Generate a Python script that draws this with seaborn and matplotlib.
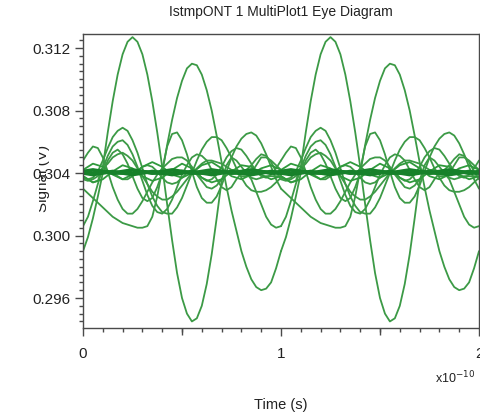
import numpy as np
import pandas as pd
import matplotlib
matplotlib.use("Agg")
import matplotlib.pyplot as plt
import seaborn as sns
from matplotlib.ticker import MultipleLocator, FormatStrFormatter
from matplotlib.patches import Rectangle

sns.set_style("ticks")
plt.rcParams["font.family"] = ["Liberation Sans", "DejaVu Sans"]

# ---------------- text ----------------
title = "IstmpONT 1 MultiPlot1 Eye Diagram"
x_label = "Time (s)"
y_label = "Signal (V)"
x_scale_label = "x10$^{-10}$"
x_tick_labels = ["0", "1", "2"]
y_tick_values = [0.296, 0.300, 0.304, 0.308, 0.312]

# ---------------- data (time in units of 1e-10 s, one unit interval) ----------------
periods = [0, 1]
t_fine = np.linspace(0, 1, 41)
t_coarse = np.linspace(0, 1, 21)

trace_a = [0.3038, 0.3036, 0.3034, 0.3035, 0.3044, 0.3066, 0.3086, 0.3103, 0.3116, 0.3124,
           0.3127, 0.3124, 0.3116, 0.3103, 0.3086, 0.3066, 0.3044, 0.3020, 0.2997, 0.2976,
           0.2960, 0.2950, 0.2945, 0.2947, 0.2955, 0.2969, 0.2988, 0.3011, 0.3035, 0.3045,
           0.3050, 0.3048, 0.3044, 0.3040, 0.3037, 0.3036, 0.3037, 0.3038, 0.3038, 0.3038,
           0.3038]
trace_b = [0.2990, 0.2999, 0.3011, 0.3025, 0.3040, 0.3048, 0.3053, 0.3055, 0.3052, 0.3046,
           0.3038, 0.3030, 0.3024, 0.3022, 0.3024, 0.3031, 0.3040, 0.3058, 0.3074, 0.3088,
           0.3099, 0.3107, 0.3110, 0.3109, 0.3103, 0.3093, 0.3080, 0.3064, 0.3047, 0.3031,
           0.3016, 0.3003, 0.2990, 0.2980, 0.2972, 0.2967, 0.2965, 0.2966, 0.2970, 0.2979,
           0.2990]
trace_c = [0.3037, 0.3036, 0.3037, 0.3041, 0.3048, 0.3056, 0.3063, 0.3067, 0.3069, 0.3067,
           0.3061, 0.3053, 0.3043, 0.3033, 0.3025, 0.3019, 0.3015, 0.3014, 0.3014, 0.3018,
           0.3024, 0.3032, 0.3040, 0.3048, 0.3055, 0.3060, 0.3063, 0.3063, 0.3061, 0.3056,
           0.3050, 0.3043, 0.3037, 0.3032, 0.3029, 0.3028, 0.3028, 0.3029, 0.3031, 0.3034,
           0.3037]
trace_d = [0.3030, 0.3027, 0.3024, 0.3021, 0.3018, 0.3015, 0.3012, 0.3010, 0.3008, 0.3007,
           0.3006, 0.3005, 0.3005, 0.3006, 0.3012, 0.3025, 0.3042, 0.3057, 0.3065, 0.3066,
           0.3061, 0.3052, 0.3041, 0.3031, 0.3024, 0.3021, 0.3021, 0.3025, 0.3032, 0.3041,
           0.3050, 0.3057, 0.3062, 0.3065, 0.3066, 0.3064, 0.3059, 0.3052, 0.3044, 0.3036,
           0.3030]
trace_e = [0.3048, 0.3053, 0.3057, 0.3056, 0.3050, 0.3041, 0.3031, 0.3023, 0.3017, 0.3014,
           0.3014, 0.3017, 0.3022, 0.3028, 0.3034, 0.3039, 0.3043, 0.3046, 0.3049, 0.3050,
           0.3050, 0.3048, 0.3044, 0.3040, 0.3037, 0.3035, 0.3036, 0.3039, 0.3044, 0.3050,
           0.3054, 0.3056, 0.3055, 0.3051, 0.3046, 0.3041, 0.3038, 0.3037, 0.3039, 0.3043,
           0.3048]
trace_f = [0.3006, 0.3012, 0.3022, 0.3033, 0.3043, 0.3051, 0.3057, 0.3060, 0.3061, 0.3058,
           0.3052, 0.3044, 0.3035, 0.3026, 0.3019, 0.3015, 0.3014, 0.3017, 0.3023, 0.3031,
           0.3039, 0.3045, 0.3050, 0.3052, 0.3051, 0.3048, 0.3042, 0.3036, 0.3031, 0.3029,
           0.3031, 0.3036, 0.3040, 0.3040, 0.3036, 0.3028, 0.3020, 0.3012, 0.3007, 0.3005,
           0.3006]
trace_g = [0.3042, 0.3041, 0.3040, 0.3041, 0.3043, 0.3046, 0.3050, 0.3052, 0.3053, 0.3051,
           0.3048, 0.3043, 0.3038, 0.3033, 0.3028, 0.3025, 0.3023, 0.3023, 0.3025, 0.3028,
           0.3032, 0.3036, 0.3040, 0.3043, 0.3046, 0.3048, 0.3048, 0.3047, 0.3046, 0.3044,
           0.3042, 0.3040, 0.3038, 0.3038, 0.3040, 0.3045, 0.3050, 0.3050, 0.3048, 0.3045,
           0.3042]
trace_h = [0.3036, 0.3035, 0.3036, 0.3038, 0.3040, 0.3041, 0.3040, 0.3038, 0.3036, 0.3036,
           0.3038, 0.3041, 0.3044, 0.3045, 0.3044, 0.3041, 0.3037, 0.3034, 0.3033, 0.3034,
           0.3037, 0.3040, 0.3041, 0.3039, 0.3035, 0.3031, 0.3030, 0.3032, 0.3036, 0.3040,
           0.3042, 0.3042, 0.3041, 0.3042, 0.3045, 0.3049, 0.3052, 0.3051, 0.3047, 0.3041,
           0.3036]

loop_1 = [0.3042, 0.3046, 0.3044, 0.3039, 0.3036, 0.3039, 0.3044, 0.3047, 0.3044, 0.3039, 0.3037,
          0.3040, 0.3045, 0.3047, 0.3043, 0.3038, 0.3036, 0.3039, 0.3043, 0.3045, 0.3042]
loop_2 = [0.3038, 0.3034, 0.3036, 0.3041, 0.3045, 0.3043, 0.3038, 0.3035, 0.3037, 0.3042, 0.3046,
          0.3043, 0.3037, 0.3034, 0.3036, 0.3041, 0.3045, 0.3044, 0.3039, 0.3036, 0.3038]

band_1 = [0.3041, 0.3042, 0.3041, 0.3040, 0.3041, 0.3042, 0.3041, 0.3040, 0.3041, 0.3042, 0.3041,
          0.3040, 0.3041, 0.3042, 0.3041, 0.3040, 0.3041, 0.3042, 0.3041, 0.3040, 0.3041]
band_2 = [0.3040, 0.3039, 0.3040, 0.3041, 0.3040, 0.3039, 0.3040, 0.3041, 0.3040, 0.3039, 0.3040,
          0.3041, 0.3040, 0.3039, 0.3040, 0.3041, 0.3040, 0.3039, 0.3040, 0.3041, 0.3040]
band_3 = [0.3040, 0.3040, 0.3041, 0.3040, 0.3040, 0.3040, 0.3041, 0.3040, 0.3040, 0.3040, 0.3041,
          0.3040, 0.3040, 0.3040, 0.3041, 0.3040, 0.3040, 0.3040, 0.3041, 0.3040, 0.3040]

swing_traces = {"A": trace_a, "B": trace_b, "C": trace_c, "D": trace_d,
                "E": trace_e, "F": trace_f, "G": trace_g, "H": trace_h}
loop_traces = {"L1": loop_1, "L2": loop_2}
band_traces = {"W1": band_1, "W2": band_2, "W3": band_3}

rows = []
for name, vals in swing_traces.items():
    for p in periods:
        for ti, v in zip(t_fine, vals):
            rows.append((f"{name}_{p}", ti + p, v, "swing"))
for kind, group in (("loop", loop_traces), ("band", band_traces)):
    for name, vals in group.items():
        for p in periods:
            for ti, v in zip(t_coarse, vals):
                rows.append((f"{name}_{p}", ti + p, v, kind))
df = pd.DataFrame(rows, columns=["trace", "time", "signal", "kind"])

# ---------------- figure ----------------
W, H = 481, 418
fig = plt.figure(figsize=(W / 100, H / 100), dpi=100)
ax = fig.add_axes([83 / W, 1 - 328 / H, 396 / W, 294 / H])

sns.lineplot(data=df[df.kind == "swing"], x="time", y="signal", units="trace",
             estimator=None, sort=False, color="#3c9a46", lw=1.3, ax=ax, legend=False)
sns.lineplot(data=df[df.kind == "loop"], x="time", y="signal", units="trace",
             estimator=None, sort=False, color="#2f9a3c", lw=1.3, ax=ax, legend=False)
sns.lineplot(data=df[df.kind == "band"], x="time", y="signal", units="trace",
             estimator=None, sort=False, color="#17812a", lw=2.6, ax=ax, legend=False)

ax.set_xlim(0, 2)
ax.set_ylim(0.29408, 0.3129)
ax.set_xlabel("")
ax.set_ylabel("")

ax.set_xticks([0, 1, 2])
ax.set_xticklabels(x_tick_labels)
ax.xaxis.set_minor_locator(MultipleLocator(0.1))
ax.set_yticks(y_tick_values)
ax.yaxis.set_major_formatter(FormatStrFormatter("%.3f"))
ax.yaxis.set_minor_locator(MultipleLocator(0.0005))

edge = "#4a4a4a"
for s in ax.spines.values():
    s.set_color(edge)
    s.set_linewidth(1.0)
ax.tick_params(which="major", direction="out", length=6, width=1, color=edge,
               labelsize=11, labelcolor="#222222", pad=3)
ax.tick_params(which="minor", direction="out", length=3, width=1, color=edge)
ax.tick_params(axis="x", which="major", pad=8)

sec = ax.secondary_xaxis("bottom")
sec.set_xticks([0.5, 1.5])
sec.set_xticklabels(["", ""])
sec.tick_params(direction="out", length=5, width=1, color=edge)
sec.spines["bottom"].set_visible(False)

fig.text(281 / W, 1 - 12 / H, title, ha="center", va="center", fontsize=10, color="#222222")
fig.text(281 / W, 1 - 405 / H, x_label, ha="center", va="center", fontsize=10.5, color="#222222")
fig.text(455 / W, 1 - 378 / H, x_scale_label, ha="center", va="center", fontsize=9, color="#222222")

# y label partly hidden behind a white strip, as in the reference
fig.text(43 / W, 1 - 178 / H, y_label, rotation=90, ha="center", va="center",
         fontsize=11, color="#222222", zorder=-2)
fig.patches.append(Rectangle((0, 0), 39 / W, 1, transform=fig.transFigure,
                             facecolor="white", edgecolor="none", zorder=-1))

fig.savefig("out.png", dpi=100)
